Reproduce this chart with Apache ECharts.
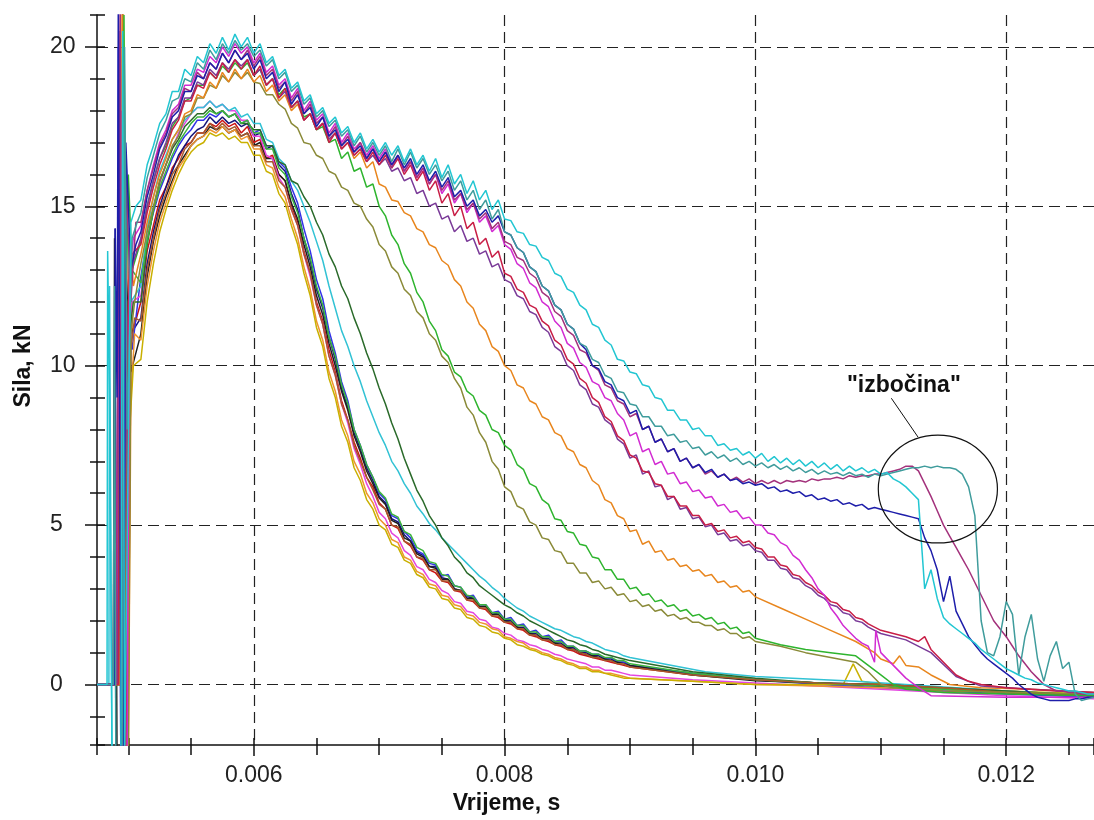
<!DOCTYPE html>
<html><head><meta charset="utf-8">
<script src="https://cdn.jsdelivr.net/npm/echarts@6/dist/echarts.min.js"></script>
<style>html,body{margin:0;padding:0;background:#fff}#c{width:1094px;height:820px}</style>
</head><body><div id="c"></div>
<script>
// Time in ms; items [t, v] are single points, items [t0, [v...]] are runs sampled every STEP_MS.
const STEP_MS = 0.05;
const X_MIN = 0.00475, X_MAX = 0.0127;
const Y_MIN = -1.9, Y_MAX = 21;
const X_LABEL_STEP = 0.002, Y_LABEL_STEP = 5;

const U1 = [[4.75,0],[4.83,0],[4.835,13.6],[4.85,9],[4.87,-2.5],[4.94,-2.5],[4.955,20.5],[4.97,-2.5],[4.985,-2.5],[5.02,14.5],[5.06,15.0],
[5.10,[15.2,16.3,16.9,17.6,17.9,18.6,18.6,19.3,19.1,19.7,19.5,20.1,19.8,20.3,19.9,20.4,20.0,20.3]],
[6.00,[19.8,20.1,19.5,19.7,19.1,19.3,18.7,18.9,18.3,18.5,17.9,18.1,17.6,17.8,17.3,17.5,17.0,17.3,16.8,17.1]],
[7.00,[16.7,17.0,16.6,16.9,16.4,16.8,16.3,16.6,16.1,16.5,15.9,16.3,15.7,16.0,15.4,15.8,15.2,15.5,14.9,15.2]],
[8.00,[14.6,14.55,14.2,14.15,13.8,13.75,13.4,13.3,12.9,12.8,12.4,12.3,11.9,11.75,11.3,11.2,10.8,10.65,10.2,10.15]],
[9.00,[9.8,9.75,9.4,9.35,9.0,8.95,8.6,8.6,8.3,8.3,8.0,8.05,7.8,7.8,7.5,7.55,7.35,7.4,7.2,7.3]],
[10.00,[7.1,7.25,7.0,7.15,6.95,7.1,6.9,7.05,6.85,7.0,6.8,6.95,6.75,6.9,6.7,6.85,6.7,6.8,6.65,6.75]],
[11.00,[6.6,6.65,6.45,6.35,6.2,6.0,5.8,3.0,3.6,2.7,2.1,1.9,1.75,1.6,1.45,1.3,1.1,0.95,0.8,0.65]],
[12.00,[0.5,0.4,0.3,0.2,0.15,0.05,0.0,-0.05,-0.1,-0.15,-0.2,-0.2,-0.25,-0.3,-0.3]]];

const U2 = [[4.75,0],[4.88,0],[4.89,12.5],[4.9,-2.5],[4.95,-2.5],[4.97,20.0],[4.99,8],[5.03,14],[5.07,14.5],
[5.10,[14.8,15.9,16.6,17.3,17.7,18.3,18.4,19.0,18.9,19.5,19.3,19.9,19.6,20.1,19.8,20.2,19.9,20.1]],
[6.00,[19.7,19.9,19.4,19.6,19.0,19.2,18.6,18.8,18.2,18.4,17.8,18.0,17.5,17.7,17.2,17.4,16.9,17.2,16.7,17.0]],
[7.00,[16.6,16.9,16.4,16.8,16.3,16.7,16.2,16.5,16.0,16.3,15.8,16.1,15.5,15.8,15.2,15.5,14.9,15.2,14.6,14.9]],
[8.00,[14.2,14.1,13.7,13.55,13.1,12.95,12.5,12.35,11.9,11.75,11.3,11.15,10.7,10.6,10.2,10.1,9.7,9.6,9.2,9.15]],
[9.00,[8.8,8.75,8.4,8.4,8.1,8.1,7.8,7.85,7.6,7.65,7.4,7.45,7.2,7.3,7.1,7.2,7.0,7.1,6.9,7.0]],
[10.00,[6.85,6.95,6.8,6.9,6.75,6.85,6.7,6.8,6.65,6.75,6.6,6.7,6.6,6.65,6.55,6.65,6.55,6.6,6.5,6.6]],
[11.00,[6.55,6.6,6.65,6.7,6.75,6.8,6.8,6.85,6.8,6.85,6.8,6.8,6.75,6.6,6.2,5.3,2.0,1.0,0.9,1.5]],
[12.00,[2.6,2.2,0.3,1.5,2.2,0.8,0.1,0.9,1.35,0.5,0.7,-0.3,-0.5,-0.45,-0.4]]];

const U3 = [[4.75,0],[4.9,0],[4.935,21.5],[4.95,-2.5],[4.965,-2.5],[4.98,16],[5.02,12],[5.06,14.5],
[5.10,[14.5,15.5,16.2,16.9,17.3,17.9,18.1,18.7,18.6,19.2,19.0,19.5,19.3,19.8,19.5,19.9,19.6,19.9]],
[6.00,[19.4,19.7,19.1,19.3,18.7,18.9,18.3,18.6,17.9,18.2,17.6,17.8,17.2,17.5,16.9,17.2,16.7,17.0,16.5,16.8]],
[7.00,[16.4,16.7,16.2,16.6,16.1,16.4,15.9,16.2,15.7,16.0,15.5,15.8,15.2,15.4,14.9,15.1,14.6,14.8,14.3,14.5]],
[8.00,[13.9,13.8,13.4,13.3,12.9,12.75,12.3,12.15,11.7,11.55,11.1,10.95,10.5,10.4,10.0,9.85,9.4,9.3,8.9,8.8]],
[9.00,[8.4,8.5,8.0,8.1,7.6,7.7,7.3,7.4,7.0,7.1,6.8,6.9,6.6,6.7,6.5,6.6,6.4,6.5,6.35,6.45]],
[10.00,[6.3,6.4,6.3,6.4,6.3,6.4,6.35,6.4,6.35,6.45,6.4,6.45,6.45,6.5,6.45,6.55,6.5,6.55,6.55,6.6]],
[11.00,[6.6,6.65,6.7,6.75,6.85,6.85,6.7,6.3,5.9,5.45,5.0,4.65,4.3,3.95,3.6,3.2,2.8,2.4,2.0,1.75]],
[12.00,[1.5,1.2,0.9,0.65,0.4,0.2,0.0,-0.1,-0.2,-0.2,-0.25,-0.25,-0.3,-0.3,-0.3]]];

const U4 = [[4.75,0],[4.89,0],[4.895,14.3],[4.91,9],[4.92,21.5],[4.94,-2.5],[4.96,-2.5],[4.98,17],[5.02,13],[5.06,13.8],
[5.10,[14.2,15.3,16.0,16.8,17.2,17.8,18.0,18.6,18.6,19.1,19.0,19.5,19.3,19.8,19.5,19.9,19.6,19.8]],
[6.00,[19.3,19.6,19.0,19.2,18.6,18.9,18.2,18.5,17.9,18.1,17.5,17.8,17.2,17.4,16.9,17.1,16.7,16.9,16.5,16.8]],
[7.00,[16.4,16.7,16.3,16.6,16.2,16.5,16.0,16.3,15.8,16.1,15.6,15.9,15.3,15.5,15.0,15.2,14.7,14.9,14.5,14.7]],
[8.00,[14.2,14.1,13.7,13.55,13.1,12.95,12.5,12.35,11.9,11.75,11.3,11.15,10.7,10.5,10.0,9.9,9.5,9.4,9.0,8.9]],
[9.00,[8.5,8.6,8.0,8.1,7.6,7.7,7.3,7.4,7.0,7.1,6.8,6.9,6.65,6.75,6.5,6.6,6.4,6.45,6.3,6.35]],
[10.00,[6.25,6.3,6.15,6.2,6.05,6.1,6.0,6.05,5.9,5.95,5.8,5.85,5.75,5.8,5.65,5.7,5.6,5.65,5.5,5.55]],
[11.00,[5.5,5.45,5.4,5.35,5.3,5.25,5.2,4.6,4.2,3.6,2.6,3.4,2.3,1.9,1.5,1.25,1.0,0.8,0.65,0.5]],
[12.00,[0.35,0.2,0.0,-0.15,-0.3,-0.4,-0.45,-0.5,-0.5,-0.5,-0.5,-0.45,-0.45,-0.4,-0.4]]];

const U5 = [[4.75,0],[4.92,0],[4.94,18],[4.96,-2.5],[4.98,-2.5],[5.0,12],[5.03,13.5],
[5.10,[13.8,14.8,15.6,16.3,16.8,17.4,17.7,18.3,18.3,18.8,18.7,19.2,19.0,19.5,19.2,19.6,19.3,19.6]],
[6.00,[19.1,19.4,18.8,19.0,18.4,18.7,18.1,18.3,17.7,17.9,17.4,17.6,17.0,17.3,16.8,17.0,16.6,16.8,16.4,16.7]],
[7.00,[16.3,16.6,16.2,16.5,16.0,16.3,15.8,16.1,15.5,15.8,15.1,15.4,14.7,15.0,14.3,14.5,13.8,14.0,13.4,13.6]],
[8.00,[12.9,12.8,12.4,12.3,11.9,11.8,11.4,11.25,10.8,10.65,10.2,10.05,9.6,9.45,9.0,8.85,8.4,8.25,7.8,7.65]],
[9.00,[7.2,7.1,6.7,6.65,6.3,6.25,5.9,5.9,5.6,5.6,5.3,5.3,5.0,5.05,4.8,4.85,4.6,4.65,4.45,4.5]],
[10.00,[4.3,4.25,4.0,4.0,3.75,3.7,3.45,3.4,3.2,3.1,2.9,2.8,2.6,2.55,2.35,2.3,2.1,2.05,1.9,1.8]],
[11.0,1.7],[11.2,1.5],[11.3,1.35],[11.35,1.5],[11.4,1.1],[11.5,0.7],[11.6,0.3],[11.7,0.1],[11.8,0.0],[12.0,-0.1],[12.4,-0.2],[12.7,-0.25]];

const U6 = [[4.75,0],[4.9,0],[4.935,20.5],[4.95,3],[4.97,-2.5],[4.99,-2.5],[5.01,13],[5.04,14],
[5.10,[14.4,15.5,16.3,17.0,17.4,18.0,18.2,18.8,18.8,19.3,19.2,19.7,19.5,20.0,19.7,20.1,19.8,20.0]],
[6.00,[19.5,19.8,19.2,19.4,18.8,19.0,18.4,18.7,18.0,18.3,17.7,17.9,17.3,17.6,17.0,17.3,16.8,17.0,16.6,16.9]],
[7.00,[16.5,16.8,16.3,16.6,16.1,16.4,15.9,16.2,15.7,16.0,15.4,15.7,15.1,15.4,14.8,15.1,14.5,14.7,14.2,14.4]],
[8.00,[13.8,13.65,13.2,13.05,12.6,12.45,12.0,11.85,11.4,11.2,10.7,10.55,10.1,9.95,9.5,9.4,9.0,8.9,8.5,8.3]],
[9.00,[7.8,7.9,7.3,7.4,6.9,7.0,6.6,6.65,6.3,6.35,6.05,6.1,5.85,5.9,5.6,5.65,5.4,5.45,5.2,5.25]],
[10.00,[5.0,5.0,4.75,4.7,4.45,4.35,4.05,3.9,3.6,3.35,3.0,2.8,2.4,2.15,1.85,1.65,1.45,1.3,1.2,0.7]],
[10.96,1.7],[11.0,1.0],[11.1,0.6],[11.2,0.2],[11.3,-0.1],[11.4,-0.35],[12.0,-0.4],[12.7,-0.4]];

const U7 = [[4.75,0],[4.91,0],[4.93,20],[4.96,-2.5],[4.98,10],[5.02,13],
[5.10,[14.0,15.0,15.8,16.5,17.0,17.6,17.8,18.4,18.4,18.9,18.8,19.3,19.1,19.5,19.3,19.6,19.4,19.6]],
[6.00,[19.1,19.3,18.8,19.0,18.4,18.6,18.1,18.3,17.7,17.9,17.4,17.6,17.1,17.3,16.8,17.0,16.6,16.8,16.4,16.6]],
[7.00,[16.3,16.5,16.1,16.2,15.8,15.9,15.4,15.5,15.0,15.1,14.6,14.7,14.2,14.4,13.9,14.0,13.5,13.6,13.1,13.2]],
[8.00,[12.7,12.6,12.2,12.1,11.7,11.6,11.2,11.05,10.6,10.45,10.0,9.85,9.4,9.25,8.8,8.7,8.3,8.15,7.7,7.55]],
[9.00,[7.1,7.2,6.6,6.7,6.2,6.25,5.8,5.9,5.5,5.55,5.2,5.25,4.95,5.0,4.7,4.75,4.5,4.55,4.35,4.4]],
[10.00,[4.2,4.15,3.9,3.9,3.65,3.6,3.35,3.3,3.1,3.0,2.8,2.7,2.5,2.45,2.25,2.2,2.0,1.95,1.8,1.7]],
[11.0,1.6],[11.2,1.4],[11.4,1.0],[11.6,0.25],[11.8,-0.05],[12.2,-0.15],[12.7,-0.25]];

const U8 = [[4.75,0],[4.93,0],[4.95,21.5],[4.97,-2.5],[4.99,-2.5],[5.01,14],[5.04,12.5],
[5.10,[13.5,14.5,15.3,16.0,16.5,17.1,17.4,17.9,18.0,18.5,18.4,18.9,18.7,19.2,18.9,19.3,19.0,19.3]],
[6.00,[18.9,19.1,18.6,18.8,18.3,18.5,18.0,18.2,17.7,17.9,17.4,17.6,17.1,17.3,16.8,17.0,16.5,16.7,16.2,16.4]],
[7.00,[15.7,15.6,15.2,15.15,14.8,14.7,14.3,14.2,13.8,13.7,13.3,13.15,12.7,12.5,12.0,11.8,11.3,11.1,10.6,10.45]],
[8.00,[10.0,9.85,9.4,9.3,8.9,8.8,8.4,8.3,7.9,7.8,7.4,7.3,6.9,6.8,6.4,6.25,5.8,5.7,5.3,5.2]],
[9.00,[4.8,4.85,4.4,4.5,4.15,4.2,3.9,3.95,3.7,3.75,3.55,3.6,3.4,3.45,3.2,3.25,3.05,3.1,2.9,2.95]],
[10.0,2.75],[10.2,2.4],[10.4,2.05],[10.6,1.7],[10.8,1.35],[10.95,1.0],[11.0,0.8],[11.1,0.65],[11.15,0.9],[11.2,0.6],[11.3,0.55],[11.4,0.3],[11.55,0.0],[11.8,-0.1],[12.2,-0.15],[12.7,-0.25]];

const U9 = [[4.75,0],[4.92,0],[4.965,21],[4.98,12],[5.0,16],[5.03,13],
[5.10,[13.9,15.0,15.8,16.5,16.9,17.5,17.8,18.3,18.4,18.8,18.8,19.2,19.0,19.4,19.2,19.5,19.3,19.5]],
[6.00,[19.1,19.3,18.8,19.0,18.5,18.7,18.1,18.3,17.8,17.9,17.4,17.5,17.0,17.1,16.5,16.7,16.1,16.2,15.6,15.7]],
[7.00,[15.0,14.7,14.1,13.8,13.2,12.9,12.3,12.0,11.4,11.1,10.5,10.3,9.8,9.65,9.2,9.05,8.6,8.45,8.0,7.9]],
[8.00,[7.5,7.35,6.9,6.75,6.3,6.2,5.8,5.65,5.2,5.15,4.8,4.75,4.4,4.35,4.0,3.95,3.6,3.6,3.3,3.3]],
[9.00,[3.0,3.05,2.8,2.85,2.6,2.65,2.45,2.5,2.3,2.35,2.15,2.2,2.05,2.1,1.9,1.95,1.75,1.8,1.6,1.65]],
[10.0,1.45],[10.2,1.25],[10.4,1.1],[10.6,1.0],[10.8,0.9],[10.9,0.6],[11.0,0.3],[11.1,0.0],[11.2,-0.15],[11.5,-0.25],[12.0,-0.3],[12.7,-0.35]];

const U10 = [[4.75,0],[4.94,0],[4.96,19.5],[4.98,-2.5],[5.0,-2.5],[5.02,11],[5.05,12],
[5.10,[13.2,14.2,15.0,15.8,16.3,16.9,17.2,17.8,17.9,18.4,18.4,18.8,18.7,19.1,18.9,19.2,19.0,19.2]],
[6.00,[18.9,18.85,18.5,18.5,18.2,18.05,17.6,17.45,17.0,16.95,16.6,16.5,16.1,16.0,15.6,15.5,15.1,15.0,14.6,14.35]],
[7.00,[13.8,13.6,13.1,12.9,12.4,12.2,11.7,11.5,11.0,10.8,10.3,10.1,9.6,9.3,8.7,8.45,7.9,7.6,7.0,6.75]],
[8.00,[6.2,6.05,5.6,5.5,5.1,5.0,4.6,4.55,4.2,4.15,3.8,3.8,3.5,3.5,3.2,3.25,3.0,3.05,2.8,2.85]],
[9.00,[2.6,2.65,2.45,2.5,2.3,2.35,2.15,2.2,2.05,2.1,1.95,1.95,1.85,1.85,1.7,1.75,1.6,1.6,1.45,1.5]],
[10.0,1.35],[10.2,1.2],[10.4,1.0],[10.6,0.85],[10.8,0.7],[10.9,0.4],[11.0,0.0],[11.1,-0.1],[11.5,-0.2],[12.7,-0.3]];

const L1 = [[4.75,0],[4.94,0],[4.97,17],[4.99,4.3],[5.0,14],[5.03,11],
[5.10,[12.0,13.6,14.4,15.2,15.6,16.2,16.5,16.9,17.0,17.3,17.3,17.6,17.5,17.7,17.5,17.6,17.3,17.5]],
[6.00,[17.0,17.1,16.5,16.6,16.0,15.8,15.0,14.5,13.6,12.9,12.0,11.4,10.5,9.8,8.9,8.3,7.6,7.1,6.5,6.2]],
[7.00,[5.7,5.5,5.0,4.9,4.5,4.35,4.0,3.9,3.6,3.5,3.25,3.2,2.95,2.9,2.65,2.6,2.4,2.35,2.15,2.1]],
[8.00,[1.95,1.9,1.75,1.7,1.55,1.5,1.4,1.35,1.25,1.2,1.1,1.05,0.95,0.9,0.85,0.8,0.75,0.7,0.65,0.6]],
[9.0,0.55],[9.5,0.3],[10.0,0.15],[10.5,0.05],[11.0,-0.05],[11.5,-0.1],[12.0,-0.2],[12.7,-0.35]];

const L2 = [[4.75,0],[4.88,0],[4.895,14.3],[4.9,-2.5],[4.94,-2.5],[4.955,21.5],[4.97,-2.5],[4.99,-2.5],[5.02,11],
[5.10,[11.5,13.2,14.2,15.0,15.6,16.1,16.6,16.9,17.2,17.4,17.5,17.8,17.6,17.8,17.6,17.7,17.5,17.6]],
[6.00,[17.2,17.3,16.8,16.9,16.3,16.1,15.4,14.9,14.0,13.3,12.4,11.8,10.9,10.2,9.3,8.7,7.9,7.4,6.8,6.4]],
[7.00,[5.9,5.7,5.2,5.1,4.7,4.5,4.15,4.05,3.7,3.7,3.35,3.3,3.0,2.95,2.7,2.75,2.45,2.45,2.2,2.25]],
[8.00,[2.0,2.0,1.8,1.8,1.6,1.6,1.45,1.45,1.3,1.3,1.15,1.15,1.0,1.0,0.9,0.9,0.8,0.8,0.7,0.7]],
[9.0,0.6],[9.5,0.35],[10.0,0.15],[10.5,0.05],[11.0,0.0],[11.5,-0.1],[12.0,-0.25],[12.7,-0.4]];

const L3 = [[4.75,0],[4.91,0],[4.92,20],[4.94,-2.5],[4.97,-2.5],[4.99,12],[5.03,10.5],
[5.10,[12.8,14.0,14.8,15.5,16.0,16.5,16.9,17.2,17.4,17.7,17.7,17.9,17.8,18.0,17.8,17.9,17.6,17.7]],
[6.00,[17.3,17.4,16.9,16.9,16.4,16.2,15.6,15.1,14.3,13.6,12.7,12.1,11.1,10.4,9.5,8.9,8.0,7.5,6.9,6.5]],
[7.00,[6.0,5.8,5.3,5.2,4.8,4.6,4.2,4.1,3.8,3.75,3.4,3.45,3.1,3.05,2.75,2.8,2.5,2.5,2.25,2.3]],
[8.00,[2.05,2.1,1.85,1.9,1.65,1.7,1.5,1.55,1.35,1.4,1.2,1.2,1.05,1.05,0.95,0.95,0.8,0.85,0.7,0.7]],
[9.0,0.6],[9.5,0.35],[10.0,0.15],[10.5,0.0],[11.0,-0.1],[11.5,-0.2],[12.0,-0.3],[12.7,-0.4]];

const L4 = [[4.75,0],[4.88,0],[4.89,14],[4.91,-2.5],[4.95,-2.5],[4.98,13],[5.02,9.8],
[5.10,[11.0,12.8,13.9,14.7,15.3,15.8,16.3,16.6,16.9,17.1,17.2,17.5,17.4,17.5,17.3,17.4,17.2,17.3]],
[6.00,[16.9,17.0,16.5,16.5,16.0,15.8,15.1,14.6,13.8,13.1,12.2,11.6,10.7,10.0,9.2,8.6,7.8,7.3,6.7,6.3]],
[7.00,[5.85,5.65,5.15,5.05,4.6,4.5,4.1,4.0,3.7,3.65,3.3,3.3,3.0,2.95,2.7,2.7,2.45,2.45,2.2,2.2]],
[8.00,[2.0,1.95,1.8,1.75,1.6,1.55,1.45,1.4,1.3,1.25,1.15,1.1,1.0,0.95,0.9,0.85,0.8,0.75,0.7,0.65]],
[9.0,0.6],[9.5,0.3],[10.0,0.12],[10.5,0.05],[11.0,-0.05],[11.5,-0.15],[12.0,-0.25],[12.7,-0.35]];

const L5 = [[4.75,0],[4.93,0],[4.95,19],[4.97,-2.5],[4.99,-2.5],[5.01,10],[5.03,12],
[5.10,[12.2,13.9,14.9,15.7,16.3,16.8,17.3,17.6,17.9,18.1,18.1,18.3,18.1,18.2,18.0,18.0,17.7,17.7]],
[6.00,[17.2,17.2,16.6,16.5,15.9,15.6,14.9,14.4,13.5,12.8,11.9,11.3,10.3,9.7,8.8,8.2,7.4,6.9,6.3,5.9]],
[7.00,[5.4,5.2,4.75,4.6,4.2,4.05,3.7,3.6,3.3,3.2,2.95,2.85,2.6,2.55,2.3,2.25,2.05,2.0,1.8,1.75]],
[8.00,[1.6,1.55,1.4,1.35,1.25,1.2,1.1,1.05,0.95,0.9,0.8,0.75,0.7,0.65,0.55,0.55,0.45,0.45,0.4,0.35]],
[9.0,0.3],[9.5,0.15],[10.0,0.05],[10.5,-0.05],[11.0,-0.15],[11.5,-0.25],[12.0,-0.35],[12.7,-0.45]];

const L6 = [[4.75,0],[4.94,0],[4.96,21.5],[4.98,-2.5],[5.0,-2.5],[5.02,9],[5.05,11],
[5.10,[10.8,12.5,13.6,14.5,15.1,15.7,16.2,16.5,16.9,17.1,17.2,17.4,17.3,17.5,17.3,17.4,17.1,17.2]],
[6.00,[16.8,16.8,16.3,16.2,15.6,15.3,14.6,14.0,13.1,12.4,11.4,10.8,9.8,9.2,8.3,7.8,7.0,6.6,6.0,5.7]],
[7.00,[5.2,5.0,4.55,4.45,4.0,3.9,3.55,3.45,3.15,3.1,2.8,2.75,2.5,2.45,2.2,2.15,1.95,1.9,1.75,1.7]],
[8.00,[1.5,1.45,1.35,1.3,1.15,1.1,1.0,0.95,0.85,0.8,0.7,0.65,0.55,0.55,0.45,0.45,0.35,0.35,0.3,0.25]],
[9.0,0.2],[9.5,0.1],[10.0,0.0],[10.5,-0.05],[11.0,-0.1],[11.5,-0.15],[12.0,-0.25],[12.7,-0.35]];

const L7 = [[4.75,0],[4.95,0],[4.97,15],[4.99,-2.5],[5.01,8],[5.04,10],
[5.10,[10.2,12.0,13.2,14.2,14.9,15.5,16.0,16.4,16.7,16.9,17.0,17.3,17.2,17.3,17.1,17.2,17.0,17.0]],
[6.00,[16.6,16.6,16.1,16.0,15.4,15.1,14.4,13.8,12.9,12.2,11.2,10.6,9.6,9.0,8.1,7.6,6.8,6.4,5.8,5.5]],
[7.00,[5.0,4.85,4.4,4.3,3.9,3.8,3.45,3.35,3.05,3.0,2.7,2.65,2.4,2.35,2.1,2.05,1.85,1.8,1.65,1.6]],
[8.00,[1.45,1.4,1.25,1.2,1.1,1.05,0.95,0.9,0.8,0.75,0.65,0.6,0.5,0.5,0.4,0.4,0.35,0.3,0.25,0.2]],
[9.0,0.2],[9.5,0.1],[10.0,0.0],[10.5,0.0],[10.7,0.0],[10.78,0.65],[10.85,0.1],[11.0,0.0],[11.5,-0.1],[12.0,-0.2],[12.7,-0.3]];

const L8 = [[4.75,0],[4.845,0],[4.85,12.5],[4.87,-2.5],[4.96,-2.5],[4.98,15],[5.02,12],
[5.10,[12.5,14.3,15.3,16.1,16.6,17.1,17.4,17.7,17.9,18.1,18.1,18.3,18.1,18.2,18.0,18.1,17.8,17.9]],
[6.00,[17.6,17.6,17.1,17.0,16.5,16.3,15.8,15.5,15.0,14.5,13.9,13.3,12.5,11.8,11.1,10.6,10.0,9.5,8.9,8.4]],
[7.00,[7.9,7.5,7.0,6.7,6.3,6.0,5.6,5.35,5.05,4.85,4.6,4.4,4.2,4.0,3.8,3.6,3.4,3.25,3.05,2.9]],
[8.00,[2.7,2.55,2.4,2.3,2.15,2.05,1.95,1.85,1.75,1.7,1.6,1.5,1.45,1.35,1.3,1.2,1.1,1.05,1.0,0.9]],
[9.0,0.85],[9.2,0.7],[9.6,0.4],[10.0,0.25],[10.8,0.1],[11.2,0.0],[12.0,-0.2],[12.7,-0.35]];

const L9 = [[4.75,0],[4.93,0],[4.95,16],[4.97,-2.5],[4.99,-2.5],[5.01,11],[5.04,12],
[5.10,[12.0,13.8,14.9,15.8,16.3,16.8,17.1,17.5,17.7,17.9,17.9,18.1,17.9,18.0,17.8,17.9,17.6,17.6]],
[6.00,[17.4,17.4,16.9,16.9,16.4,16.3,15.8,15.7,15.3,15.0,14.5,14.1,13.5,13.1,12.5,12.1,11.5,11.0,10.4,9.9]],
[7.00,[9.3,8.8,8.2,7.7,7.1,6.6,6.1,5.75,5.3,5.0,4.6,4.35,4.0,3.8,3.5,3.35,3.1,2.95,2.8,2.65]],
[8.00,[2.5,2.4,2.25,2.15,2.0,1.9,1.8,1.7,1.6,1.5,1.4,1.35,1.25,1.2,1.1,1.05,0.95,0.9,0.85,0.8]],
[9.0,0.75],[9.5,0.4],[10.0,0.2],[10.5,0.05],[11.0,0.0],[11.5,-0.1],[12.0,-0.2],[12.7,-0.35]];

const L10 = [[4.75,0],[4.92,0],[4.935,20.5],[4.96,-2.5],[4.98,-2.5],[5.0,12],[5.03,13],
[5.10,[12.6,13.9,14.9,15.6,16.1,16.6,17.0,17.3,17.6,17.8,17.8,18.0,17.9,18.0,17.8,17.9,17.6,17.7]],
[6.00,[17.3,17.3,16.8,16.8,16.2,16.0,15.3,14.8,14.0,13.4,12.5,11.9,10.9,10.3,9.4,8.8,8.0,7.5,6.9,6.5]],
[7.00,[6.05,5.85,5.35,5.25,4.8,4.7,4.3,4.2,3.85,3.8,3.45,3.4,3.1,3.05,2.8,2.75,2.5,2.5,2.25,2.25]],
[8.00,[2.05,2.05,1.85,1.85,1.65,1.65,1.5,1.5,1.35,1.35,1.2,1.2,1.05,1.05,0.95,0.95,0.85,0.85,0.75,0.75]],
[9.0,0.65],[9.5,0.35],[10.0,0.15],[10.5,0.05],[11.0,-0.05],[11.5,-0.15],[12.0,-0.25],[12.7,-0.35]];

const L11 = [[4.75,0],[4.93,0],[4.955,18.5],[4.975,-2.5],[4.995,-2.5],[5.02,10.5],[5.05,11.5],
[5.10,[11.4,13.0,14.0,14.9,15.4,16.0,16.3,16.8,17.0,17.3,17.3,17.6,17.4,17.6,17.4,17.5,17.2,17.3]],
[6.00,[16.9,16.9,16.4,16.4,15.8,15.6,14.9,14.4,13.5,12.9,11.9,11.3,10.3,9.7,8.8,8.3,7.5,7.0,6.5,6.1]],
[7.00,[5.65,5.5,5.0,4.95,4.5,4.4,4.0,3.95,3.6,3.6,3.25,3.25,2.95,2.95,2.65,2.65,2.4,2.4,2.15,2.15]],
[8.00,[1.95,1.95,1.75,1.75,1.55,1.55,1.4,1.4,1.25,1.25,1.1,1.1,1.0,0.95,0.85,0.85,0.75,0.75,0.65,0.65]],
[9.0,0.55],[9.5,0.3],[10.0,0.15],[10.5,0.05],[11.0,0.0],[11.5,-0.1],[12.0,-0.25],[12.7,-0.35]];

const CURVES = [L1,L2,L3,L4,L5,L6,L7,L8,L9,L10,L11,U10,U9,U8,U7,U5,U6,U3,U4,U2,U1];
const NAMES  = ['L1','L2','L3','L4','L5','L6','L7','L8','L9','L10','L11','U10','U9','U8','U7','U5','U6','U3','U4','U2','U1'];
const COLORS = ['#cc1414','#14147a','#3232e6','#202020','#e446e0','#ee9430','#c9b000','#32c2d4','#2a6a2a','#3cb43c','#a8582c',
                '#8a8a38','#2eb42e','#e8861e','#7a3a98','#c81e46','#d22cd2','#a3327c','#1e1eaa','#3f9c9c','#22c6d2'];

// annotation ("izbočina")
const BUMP_LABEL = '"izbočina"';
const BUMP_LABEL_POS = [0.011184, 9.37];
const BUMP_CENTER = [0.011455, 6.13];
const BUMP_RADIUS = [0.000475, 1.69];
const LEADER = [[0.011084, 8.98], [0.011297, 7.76]];

function build(curve){
  const pts = [];
  curve.forEach(it => {
    if (Array.isArray(it[1])) it[1].forEach((v,i) => pts.push([(it[0] + i*STEP_MS)/1000, v]));
    else pts.push([it[0]/1000, it[1]]);
  });
  return pts;
}

const FONT = '"Liberation Sans", Arial, Helvetica, sans-serif';
const AX = '#111';
const fmtX = v => Math.abs(v/X_LABEL_STEP - Math.round(v/X_LABEL_STEP)) < 1e-6 ? v.toFixed(3) : '';
const fmtY = v => Math.abs(v/Y_LABEL_STEP - Math.round(v/Y_LABEL_STEP)) < 1e-6 ? String(Math.round(v)) : '';

const xBase = {type:'value', min:X_MIN, max:X_MAX, position:'bottom', offset:0};
const yBase = {type:'value', min:Y_MIN, max:Y_MAX, position:'left', offset:0};

const series = CURVES.map((c,i) => ({
  type:'line', name:NAMES[i], data:build(c), showSymbol:false, symbol:'none',
  lineStyle:{color:COLORS[i], width:1.5}, itemStyle:{color:COLORS[i]},
  xAxisIndex:0, yAxisIndex:0, z:2, animation:false, silent:true, clip:true
}));

series.push({
  type:'custom', xAxisIndex:0, yAxisIndex:0, data:[BUMP_CENTER], silent:true, z:10, clip:false, animation:false,
  renderItem:(params, api) => {
    const c = api.coord(BUMP_CENTER);
    const s = api.size(BUMP_RADIUS);
    const p1 = api.coord(LEADER[0]), p2 = api.coord(LEADER[1]);
    const tp = api.coord(BUMP_LABEL_POS);
    return {type:'group', children:[
      {type:'ellipse', shape:{cx:c[0], cy:c[1], rx:s[0], ry:s[1]}, style:{fill:'none', stroke:'#111', lineWidth:1.2}},
      {type:'line', shape:{x1:p1[0], y1:p1[1], x2:p2[0], y2:p2[1]}, style:{stroke:'#111', lineWidth:1}},
      {type:'text', x:tp[0], y:tp[1], style:{text:BUMP_LABEL, font:'bold 23px ' + FONT, fill:'#111', align:'center', verticalAlign:'middle'}}
    ]};
  }
});

const option = {
  animation:false,
  backgroundColor:'#fff',
  grid:{left:97, right:-1, top:15, bottom:73, containLabel:false},
  xAxis:[
    Object.assign({}, xBase, {
      splitNumber:4,
      axisLine:{show:true, onZero:false, lineStyle:{color:AX, width:1.5}},
      axisTick:{show:true, inside:false, length:11, lineStyle:{color:AX, width:1.5}},
      axisLabel:{show:true, margin:19, formatter:fmtX, color:'#222', fontSize:23, fontFamily:FONT, showMinLabel:false, showMaxLabel:false},
      splitLine:{show:true, showMinLine:false, showMaxLine:false, lineStyle:{color:'#222', type:[11,6], width:1.2}},
      name:'Vrijeme, s', nameLocation:'middle', nameGap:46,
      nameTextStyle:{fontWeight:'bold', fontSize:23, color:'#111', fontFamily:FONT, padding:[0,178,0,0]}
    }),
    Object.assign({}, xBase, {
      splitNumber:16,
      axisLine:{show:false, onZero:false},
      axisTick:{show:true, inside:false, length:10, lineStyle:{color:AX, width:1.5}},
      axisLabel:{show:false}, splitLine:{show:false}
    }),
    Object.assign({}, xBase, {
      splitNumber:16,
      axisLine:{show:false, onZero:false},
      axisTick:{show:true, inside:true, length:7, lineStyle:{color:AX, width:1.5}},
      axisLabel:{show:false}, splitLine:{show:false}
    })
  ],
  yAxis:[
    Object.assign({}, yBase, {
      splitNumber:5,
      axisLine:{show:true, onZero:false, lineStyle:{color:AX, width:1.5}},
      axisTick:{show:true, inside:false, length:12, lineStyle:{color:AX, width:1.5}},
      axisLabel:{show:true, margin:47, align:'left', formatter:fmtY, color:'#222', fontSize:23, fontFamily:FONT, showMinLabel:false, showMaxLabel:false},
      splitLine:{show:true, showMinLine:false, showMaxLine:false, lineStyle:{color:'#222', type:[11,6], width:1.2}},
      name:'Sila, kN', nameLocation:'middle', nameGap:62, nameRotate:90,
      nameTextStyle:{fontWeight:'bold', fontSize:23, color:'#111', fontFamily:FONT, padding:[0,0,0,28]}
    }),
    Object.assign({}, yBase, {
      splitNumber:23,
      axisLine:{show:false, onZero:false},
      axisTick:{show:true, inside:false, length:7, lineStyle:{color:AX, width:1.5}},
      axisLabel:{show:false}, splitLine:{show:false}
    }),
    Object.assign({}, yBase, {
      splitNumber:23,
      axisLine:{show:false, onZero:false},
      axisTick:{show:true, inside:true, length:8, lineStyle:{color:AX, width:1.5}},
      axisLabel:{show:false}, splitLine:{show:false}
    })
  ],
  series: series
};

const chart = echarts.init(document.getElementById('c'), null, {renderer:'canvas', width:1094, height:820});
chart.setOption(option);
</script>
</body></html>
